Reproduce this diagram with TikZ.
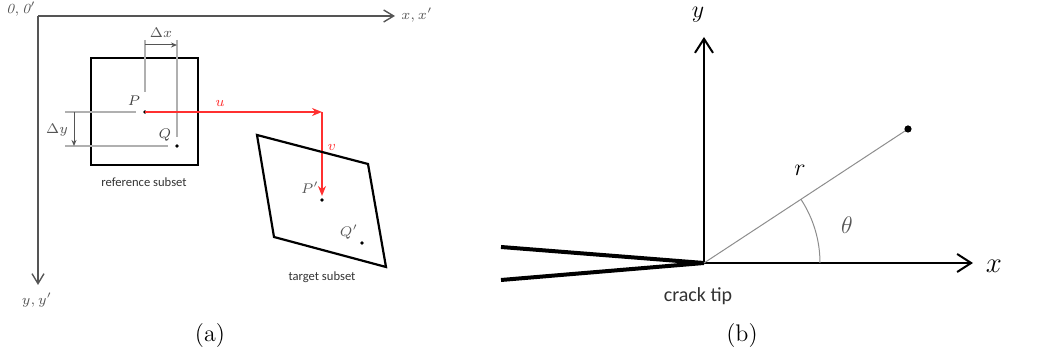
\documentclass[tikz,border=0pt]{standalone}
\usepackage{amsmath}
\usepackage{fontspec}
\usepackage{xcolor}
\usetikzlibrary{arrows.meta}
\newfontfamily\capfont{Carlito}
\definecolor{AxisGray}{HTML}{555555}
\definecolor{GuideGray}{HTML}{B0B0B0}
\definecolor{DispRed}{HTML}{FF3030}

\begin{document}
\begin{tikzpicture}[x=0.5pt, y=-0.5pt,
  axis/.style={draw=AxisGray, line width=0.7pt, -{Straight Barb[length=5pt, width=6pt]}},
  bigaxis/.style={draw=black, line width=1pt, -{Straight Barb[length=7pt, width=9pt]}},
  guide/.style={draw=GuideGray, line width=0.6pt},
  dim/.style={draw=AxisGray, line width=0.5pt, -{Stealth[length=3pt, width=2.5pt]}},
  disp/.style={draw=DispRed, line width=0.8pt, -{Stealth[length=5pt, width=4pt]}},
  subset/.style={draw=black, line width=1.1pt, line join=miter},
  lbl/.style={text=AxisGray, font=\scriptsize, inner sep=0pt},
  caption/.style={font=\capfont\fontsize{6.3}{7}\selectfont, text=black!80, inner sep=0pt},
  dot/.style={fill=black}
]
  \useasboundingbox (0,0) rectangle (1041,356);

  % (a) image and deformed subsets
  \coordinate (o) at (38,16);
  \coordinate (xend) at (395,16);
  \coordinate (yend) at (38,285);
  \draw[axis] (o) -- (xend);
  \draw[axis] (o) -- (yend);
  \node[lbl] (olbl) at (21,9) {$\mathit{0},\mathit{0}'$};
  \node[lbl, anchor=west] (xlbl) at (401,15) {$x,x'$};
  \node[lbl] (ylbl) at (37,300) {$y,y'$};

  \draw[subset] (91,58) rectangle (198,165);
  \node[caption] (refcap) at (144,182) {reference subset};

  \coordinate (P) at (145,112);
  \coordinate (Q) at (177,146);
  \draw[guide] (145,40) -- (145,92);
  \draw[guide] (177,40) -- (177,137);
  \draw[guide] (65,112) -- (136,112);
  \draw[guide] (65,146) -- (168,146);
  \coordinate (dxa) at (145,45);
  \coordinate (dxb) at (177,45);
  \coordinate (dya) at (74,112);
  \coordinate (dyb) at (74,146);
  \draw[dim] (dxa) -- (dxb);
  \draw[dim] (dya) -- (dyb);
  \node[lbl] (dxlbl) at (161,33) {$\Delta x$};
  \node[lbl] (dylbl) at (57,130) {$\Delta y$};

  \fill[dot] (P) circle (0.9pt);
  \fill[dot] (Q) circle (0.9pt);
  \node[lbl, text=black!75] (plbl) at (134,101) {$P$};
  \node[lbl, text=black!75] (qlbl) at (165,135) {$Q$};

  \coordinate (corner) at (322,112);
  \coordinate (Pp) at (322,200);
  \coordinate (vend) at (322,196);
  \draw[disp] (P) -- (corner);
  \draw[disp] (corner) -- (vend);
  \node[lbl, text=DispRed] (ulbl) at (220,103) {$u$};
  \node[lbl, text=DispRed] (vlbl) at (332,147) {$v$};

  \draw[subset] (257,135) -- (368,164) -- (386,267) -- (274,237) -- cycle;
  \coordinate (Qp) at (362,243);
  \fill[dot] (Pp) circle (0.9pt);
  \fill[dot] (Qp) circle (0.9pt);
  \node[lbl] (pplbl) at (310,188) {$P'$};
  \node[lbl] (qplbl) at (349,232) {$Q'$};
  \node[caption] (tgtcap) at (322,277) {target subset};

  \node[font=\large] (capa) at (210,336) {(a)};

  % (b) crack tip polar coordinates
  \coordinate (tip) at (704,263);
  \coordinate (Xend) at (973,263);
  \coordinate (Yend) at (704,37);
  \coordinate (pt) at (908,129);
  \coordinate (arcs) at (820,263);
  \draw[line width=2pt] (501,247) -- (tip) -- (501,280);
  \draw[bigaxis] (tip) -- (Xend);
  \draw[bigaxis] (tip) -- (Yend);
  \draw[draw=GuideGray!80!black, line width=0.5pt] (tip) -- (pt);
  \draw[draw=GuideGray!80!black, line width=0.5pt] (arcs) arc[start angle=0, end angle=-33.3, radius=116];
  \fill[dot] (pt) circle (1.8pt);
  \node[font=\large, inner sep=0pt] (Ylbl) at (698,15) {$y$};
  \node[font=\Large] (Xlbl) at (994,266) {$x$};
  \node[font=\large] (rlbl) at (800,170) {$r$};
  \node[font=\large, text=AxisGray] (thlbl) at (847,225) {$\theta$};
  \node[font=\capfont\fontsize{10}{12}\selectfont, text=black!80] (tipcap) at (698,296) {crack tip};
  \node[font=\large] (capb) at (742,336) {(b)};
\end{tikzpicture}
\end{document}
